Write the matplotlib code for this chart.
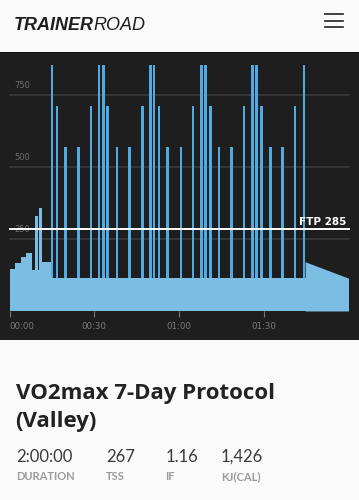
import numpy as np
import matplotlib
matplotlib.use('Agg')
import matplotlib.pyplot as plt
from matplotlib.lines import Line2D

# workout profile (minutes, watts)
ftp = 285
warm_start = [0, 2, 4, 6, 8, 9, 10, 10.5, 11.5]
warm_len = [2, 2, 2, 2, 1, 1, 0.5, 1, 3.2]
warm_watts = [145, 168, 187, 201, 142, 330, 142, 357, 171]

base_start = 14.7
base_end = 104.9
base_watts = 114

spike_times = [15.1, 16.8, 19.9, 24.5, 28.8, 31.7,
               33.2, 34.8, 38.0, 42.5, 47.0, 49.8,
               51.2, 52.9, 56.0, 60.7, 65.0, 67.9,
               69.3, 71.1, 74.2, 78.7, 83.0, 86.0,
               87.4, 89.1, 92.3, 96.7, 101.1, 104.2]
spike_watts = [855, 712, 570, 570, 712, 855] * 5
spike_len = 0.95

cool_t = [104.65, 120]
cool_w = [171, 114]

grid_vals = [250, 500, 750]
xticks = [0, 30, 60, 90]
xlabels = ['00:00', '00:30', '01:00', '01:30']

stat_vals = ['2:00:00', '267', '1.16', '1,426']
stat_names = ['DURATION', 'TSS', 'IF', 'KJ(CAL)']
stat_x = [16, 106, 165.5, 221]

W, H = 359, 500
fig = plt.figure(figsize=(W / 100, H / 100), dpi=100)
fig.patch.set_facecolor('#fafafa')

# dark chart panel
bg = fig.add_axes([0, 1 - 340 / H, 1, 288 / H])
bg.set_facecolor('#1e1e1e')
bg.set_xticks([])
bg.set_yticks([])
for s in bg.spines.values():
    s.set_visible(False)
bg.axhline(1, color='#0c0c0c', lw=1.5)

ax = fig.add_axes([9.5 / W, 1 - 311 / H, 339 / W, 256 / H])
ax.set_facecolor('none')
ax.set_xlim(0, 120)
ax.set_ylim(0, 256 / 0.288)
for s in ax.spines.values():
    s.set_visible(False)

for g in grid_vals:
    ax.plot([0, 120.3], [g, g], color='#3d3d3d', lw=1.1, zorder=1, clip_on=False)
    ax.text(1.6, g + 16, str(g), color='#6e6e6e', fontsize=6, va='bottom', ha='left', zorder=1)

blue = '#7bbde3'
spike_blue = '#52aae2'
ax.bar(warm_start, warm_watts, width=warm_len, align='edge', color=blue,
       linewidth=0, zorder=2)
# base drawn over the spike feet so the lower band stays uniform
ax.bar([base_start], [base_watts], width=[base_end - base_start], align='edge',
       color=blue, linewidth=0, zorder=3.5)
ax.bar(np.array(spike_times) - spike_len / 2, spike_watts, width=spike_len, align='edge',
       color=spike_blue, linewidth=0, zorder=3)
ax.fill_between(cool_t, cool_w, 0, color=blue, linewidth=0, zorder=3.6)

ax.plot([0, 120.3], [ftp, ftp], color='white', lw=1.4, zorder=4, clip_on=False)
ax.text(119.2, ftp + 7, 'FTP %d' % ftp, color='white', fontsize=7.5, fontweight='bold',
        ha='right', va='bottom', zorder=5)

ax.set_yticks([])
ax.set_xticks(xticks)
ax.set_xticklabels(xlabels)
ax.tick_params(axis='x', colors='#7a7a7a', labelsize=6.2, length=4, width=0.8, pad=4,
               direction='out')
ax.get_xticklabels()[0].set_horizontalalignment('left')

# header
logo1 = fig.text(14 / W, 1 - 30 / H, 'TRAINER', fontsize=13, fontweight='bold',
                 style='italic', family='Liberation Sans', color='#1e1e1e')
fig.canvas.draw()
bb = logo1.get_window_extent()
fig.text(bb.x1 / W - 0.002, 1 - 30 / H, 'ROAD', fontsize=13, style='italic',
         family='Liberation Sans', color='#1e1e1e')
for yy in [14, 20.7, 27.3]:
    fig.lines.append(Line2D([325 / W, 343 / W], [1 - yy / H] * 2, transform=fig.transFigure,
                            color='#333333', lw=1.3))

# title and stats
fig.text(15.5 / W, 1 - 399 / H, 'VO2max 7-Day Protocol', fontsize=16, fontweight='bold',
         family='Open Sans', color='#222222')
fig.text(15.5 / W, 1 - 427 / H, '(Valley)', fontsize=16, fontweight='bold',
         family='Open Sans', color='#222222')
for x, v, n in zip(stat_x, stat_vals, stat_names):
    fig.text(x / W, 1 - 462 / H, v, fontsize=12, fontweight='normal', family='Lato',
             color='#3a3a3a')
    fig.text(x / W, 1 - 480 / H, n, fontsize=8, fontweight='bold', family='Lato',
             color='#9b9b9b')

fig.savefig('out.png', dpi=100, facecolor=fig.get_facecolor())
